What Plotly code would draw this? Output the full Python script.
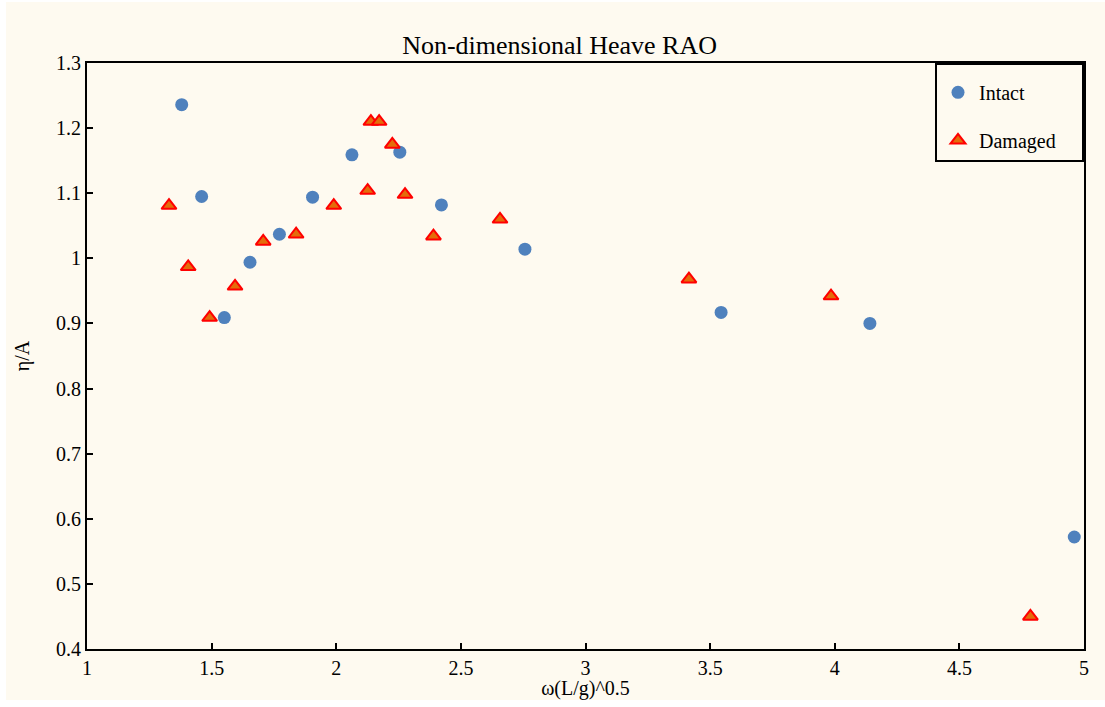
import plotly.graph_objects as go

intact_x = [1.380, 1.460, 1.551, 1.654, 1.772, 1.905, 2.063, 2.255, 2.422, 2.757, 3.544, 4.141, 4.961]
intact_y = [1.236, 1.095, 0.909, 0.994, 1.037, 1.094, 1.159, 1.163, 1.082, 1.014, 0.917, 0.900, 0.572]

damaged_x = [1.329, 1.406, 1.492, 1.594, 1.707, 1.839, 1.990, 2.126, 2.139, 2.172, 2.225, 2.276, 2.390, 2.657, 3.415, 3.985, 4.785]
damaged_y = [1.081, 0.987, 0.909, 0.957, 1.026, 1.037, 1.081, 1.104, 1.210, 1.210, 1.175, 1.098, 1.034, 1.060, 0.968, 0.942, 0.450]

title_text = "Non-dimensional Heave RAO"
x_title = "ω(L/g)^0.5"
y_title = "η/A"

bg = "#FEFAF0"
font_family = "Liberation Serif, Times New Roman, serif"

fig = go.Figure()
fig.add_trace(go.Scatter(
    x=intact_x, y=intact_y, mode="markers", name="Intact",
    legendgroup="a",
    marker=dict(symbol="circle", size=13, color="#4F81BD", line=dict(width=0)),
))
fig.add_trace(go.Scatter(
    x=damaged_x, y=damaged_y, mode="markers", name="Damaged",
    legendgroup="b",
    marker=dict(symbol="triangle-up", size=13, color="#E46C0A", line=dict(width=2, color="#FF0000")),
))

axis_common = dict(
    showgrid=False, zeroline=False, showline=True, linecolor="black", linewidth=2,
    mirror=True, ticks="inside", ticklen=6, tickwidth=2, tickcolor="black",
    tickfont=dict(family=font_family, size=20, color="black"),
    automargin=False,
)

fig.update_layout(
    width=1099, height=698,
    paper_bgcolor=bg, plot_bgcolor=bg,
    margin=dict(l=81, r=21, t=61, b=51),
    font=dict(family=font_family, color="black"),
    title=dict(text=title_text, x=0.5037, xanchor="center", y=0.9384, yanchor="middle",
               font=dict(family=font_family, size=26, color="black")),
    xaxis=dict(range=[1, 5], dtick=0.5, tick0=1,
               title=dict(text=x_title, standoff=10, font=dict(family=font_family, size=20)),
               **axis_common),
    yaxis=dict(range=[0.4, 1.3], dtick=0.1, tick0=0.4,
               title=dict(text=y_title, standoff=21, font=dict(family=font_family, size=20)),
               **axis_common),
    legend=dict(x=1, y=1, xanchor="right", yanchor="top",
                bgcolor=bg, bordercolor="black", borderwidth=2,
                font=dict(family=font_family, size=20, color="black"),
                title=dict(text="\u00a0" * 94, font=dict(size=6, color=bg)),
                traceorder="grouped", tracegroupgap=19,
                itemwidth=32),
    showlegend=True,
)

fig.write_html(
    "out.html",
    post_script=(
        "document.body.style.margin='0';"
        "document.body.style.padding='2px 0 0 6px';"
        "document.body.style.overflow='hidden';"
        "document.body.style.background='#FFFFFF';"
    ),
)
